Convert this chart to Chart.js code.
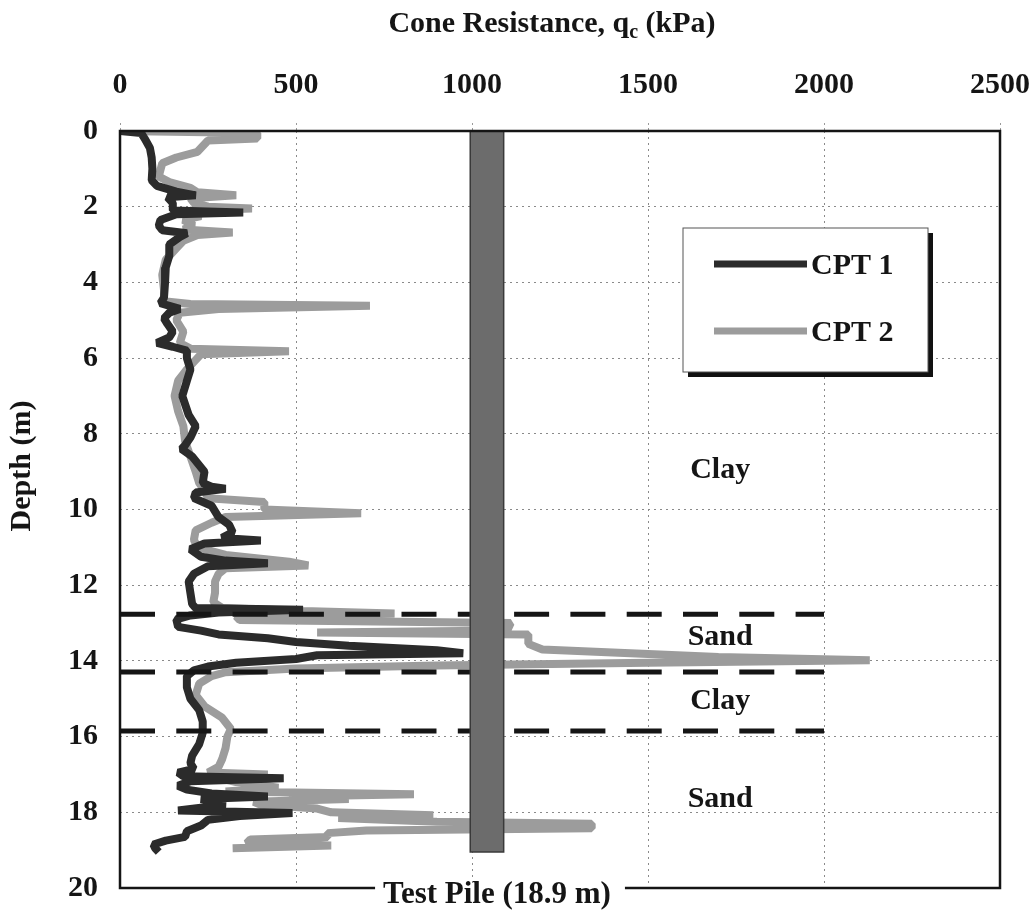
<!DOCTYPE html>
<html>
<head>
<meta charset="utf-8">
<title>CPT profiles</title>
<script src="https://cdn.jsdelivr.net/npm/chart.js@4.4.1/dist/chart.umd.min.js"></script>
<style>
  html, body { margin: 0; padding: 0; background: #fff; }
  #wrap { width: 1034px; height: 912px; }
</style>
</head>
<body>
<div id="wrap"><canvas id="canvas" width="1034" height="912"></canvas></div>
<script>
// CPT 1 : depth (m) / cone resistance (kPa)
const depth1 = [0, 0.05, 0.2, 0.45, 0.7, 1.0, 1.3, 1.45, 1.6, 1.7,
  1.75, 1.9, 2.1, 2.15, 2.2, 2.35, 2.5, 2.62, 2.7, 2.8,
  3.0, 3.3, 3.6, 4.0, 4.4, 4.55, 4.7, 4.8, 4.95, 5.1,
  5.3, 5.45, 5.6, 5.7, 5.8, 6.0, 6.3, 6.6, 7.0, 7.5,
  7.8, 8.1, 8.3, 8.4, 8.6, 9.0, 9.3, 9.4, 9.45, 9.55,
  9.7, 9.9, 10.2, 10.4, 10.6, 10.75, 10.82, 10.9, 11.05, 11.25,
  11.35, 11.42, 11.5, 11.7, 11.9, 12.2, 12.5, 12.6, 12.65, 12.72,
  12.8, 12.9, 13.1, 13.2, 13.3, 13.4, 13.5, 13.6, 13.72, 13.8,
  13.85, 13.95, 14.05, 14.15, 14.25, 14.4, 14.7, 15.0, 15.3, 15.6,
  15.9, 16.2, 16.5, 16.7, 16.85, 16.95, 17.05, 17.1, 17.18, 17.3,
  17.4, 17.5, 17.58, 17.65, 17.8, 17.95, 18.02, 18.1, 18.2, 18.35,
  18.5, 18.65, 18.75, 18.85, 18.95, 19.05];
const qc1 = [0, 60, 70, 85, 90, 92, 90, 105, 160, 215,
  135, 150, 150, 350, 160, 115, 110, 120, 190, 170,
  140, 140, 130, 128, 125, 115, 170, 140, 125, 135,
  150, 140, 105, 150, 190, 190, 200, 190, 177, 195,
  215, 200, 185, 175, 205, 240, 235, 260, 300, 215,
  210, 260, 280, 310, 320, 290, 400, 240, 200, 230,
  300, 420, 250, 210, 195, 200, 205, 215, 520, 280,
  200, 160, 165, 230, 280, 420, 500, 650, 900, 975,
  560, 500, 330, 250, 210, 190, 190, 200, 225, 235,
  235, 225, 205, 200, 210, 165, 180, 465, 200, 165,
  190, 260, 420, 230, 300, 165, 490, 340, 250, 230,
  190, 185, 130, 95, 100, 110];

// CPT 2
const depth2 = [0, 0.05, 0.2, 0.25, 0.55, 0.7, 0.85, 1.2, 1.35, 1.5,
  1.62, 1.7, 1.78, 1.9, 2.0, 2.05, 2.1, 2.25, 2.35, 2.5,
  2.6, 2.68, 2.75, 2.9, 3.1, 3.4, 3.8, 4.2, 4.5, 4.57,
  4.62, 4.7, 4.8, 5.0, 5.3, 5.6, 5.75, 5.82, 5.9, 6.1,
  6.3, 6.6, 7.0, 7.4, 7.8, 8.2, 8.6, 9.0, 9.3, 9.5,
  9.7, 9.8, 10.0, 10.1, 10.2, 10.35, 10.55, 10.8, 11.0, 11.2,
  11.38, 11.48, 11.55, 11.7, 11.9, 12.2, 12.45, 12.6, 12.68, 12.75,
  12.82, 12.92, 13.0, 13.2, 13.25, 13.3, 13.55, 13.7, 13.9, 13.98,
  14.05, 14.12, 14.2, 14.3, 14.4, 14.6, 14.9, 15.2, 15.5, 15.8,
  16.0, 16.3, 16.6, 16.8, 16.95, 17.0, 17.05, 17.2, 17.35, 17.45,
  17.52, 17.58, 17.65, 17.72, 17.8, 17.9, 18.0, 18.08, 18.15, 18.25,
  18.3, 18.42, 18.48, 18.55, 18.65, 18.72, 18.82, 18.88, 18.95];
const qc2 = [0, 390, 390, 250, 220, 160, 120, 110, 140, 200,
  220, 330, 200, 210, 250, 375, 200, 230, 180, 210,
  180, 320, 220, 180, 160, 130, 120, 125, 125, 200,
  710, 280, 170, 160, 180, 170, 200, 480, 230, 210,
  190, 165, 155, 165, 180, 185, 200, 215, 225, 240,
  250, 410, 410, 685, 300, 260, 215, 210, 220, 300,
  480, 535, 300, 280, 270, 270, 265, 290, 520, 780,
  330, 340, 1110, 1100, 560, 1160, 1160, 1200, 1700, 2130,
  1500, 900, 500, 300, 260, 225, 215, 240, 290, 315,
  305, 300, 290, 280, 250, 420, 260, 330, 450, 300,
  835, 480, 650, 380, 400, 560, 600, 890, 620, 900,
  1340, 1340, 700, 590, 590, 370, 360, 600, 320];

const xTicks = [0, 500, 1000, 1500, 2000, 2500];
const yTicks = [0, 2, 4, 6, 8, 10, 12, 14, 16, 18, 20];

// soil layer boundaries (m) and layer names
const boundaryDepths = [12.77, 14.29, 15.85];
const boundaryQc = [0, 2000];
const layerNames = ['Clay', 'Sand', 'Clay', 'Sand'];
const layerDepths = [8.95, 13.38, 15.07, 17.65];
const layerQc = 1705;

// test pile
const pileQc = [995, 1090];
const pileDepth = 19.05;
const pileLabel = 'Test Pile (18.9 m)';

const FONT = "'Liberation Serif', 'Times New Roman', serif";
const INK = '#151515';

function toPoints(depths, values) {
  return depths.map((d, i) => ({ x: values[i], y: d }));
}

const datasets = [];

datasets.push({
  label: 'pile',
  data: [
    { x: pileQc[0], y: 0 }, { x: pileQc[1], y: 0 },
    { x: pileQc[1], y: pileDepth }, { x: pileQc[0], y: pileDepth },
    { x: pileQc[0], y: 0 }
  ],
  showLine: true,
  fill: 'shape',
  backgroundColor: '#6c6c6c',
  borderColor: '#3a3a3a',
  borderWidth: 1.5,
  pointRadius: 0,
  order: 0
});

boundaryDepths.forEach((d) => {
  datasets.push({
    label: 'boundary',
    data: [{ x: boundaryQc[0], y: d }, { x: boundaryQc[1], y: d }],
    showLine: true,
    borderColor: INK,
    borderWidth: 5,
    borderDash: [35, 21.3],
    borderCapStyle: 'butt',
    pointRadius: 0,
    order: 1
  });
});

datasets.push({
  label: 'CPT 1',
  data: toPoints(depth1, qc1),
  showLine: true,
  borderColor: '#2b2b2b',
  borderWidth: 8,
  borderJoinStyle: 'bevel',
  pointRadius: 0,
  order: 2
});

datasets.push({
  label: 'CPT 2',
  data: toPoints(depth2, qc2),
  showLine: true,
  borderColor: '#9c9c9c',
  borderWidth: 8,
  borderJoinStyle: 'bevel',
  pointRadius: 0,
  order: 3
});

// frame, titles, layer names, pile label and legend
const decorations = {
  id: 'decorations',
  afterDatasetsDraw(chart) {
    const { ctx, chartArea: a } = chart;
    ctx.save();
    ctx.strokeStyle = INK;
    ctx.lineWidth = 2.5;
    ctx.strokeRect(a.left, a.top, a.right - a.left, a.bottom - a.top);
    ctx.restore();
  },
  afterDraw(chart) {
    const { ctx, chartArea: a, scales } = chart;
    const sx = scales.x, sy = scales.y;
    ctx.save();
    ctx.fillStyle = INK;

    // x title with subscript c
    const main = 'bold 30px ' + FONT, sub = 'bold 20px ' + FONT;
    const p1 = 'Cone Resistance, q', p2 = 'c', p3 = ' (kPa)';
    ctx.font = main;
    const w1 = ctx.measureText(p1).width, w3 = ctx.measureText(p3).width;
    ctx.font = sub;
    const w2 = ctx.measureText(p2).width;
    let tx = 552 - (w1 + w2 + w3) / 2;
    ctx.textBaseline = 'alphabetic';
    ctx.textAlign = 'left';
    ctx.font = main; ctx.fillText(p1, tx, 32); tx += w1;
    ctx.font = sub; ctx.fillText(p2, tx, 38); tx += w2;
    ctx.font = main; ctx.fillText(p3, tx, 32);

    // y title
    ctx.save();
    ctx.translate(22, 466);
    ctx.rotate(-Math.PI / 2);
    ctx.textAlign = 'center';
    ctx.textBaseline = 'middle';
    ctx.font = 'bold 30px ' + FONT;
    ctx.fillText('Depth (m)', 0, 0);
    ctx.restore();

    // layer names
    ctx.textAlign = 'center';
    ctx.textBaseline = 'middle';
    ctx.font = 'bold 30px ' + FONT;
    layerNames.forEach((name, i) => {
      ctx.fillText(name, sx.getPixelForValue(layerQc), sy.getPixelForValue(layerDepths[i]));
    });

    // pile label sitting on the bottom frame
    ctx.font = 'bold 31px ' + FONT;
    const pw = ctx.measureText(pileLabel).width;
    const pcx = 497;
    ctx.fillStyle = '#fff';
    ctx.fillRect(pcx - pw / 2 - 8, a.bottom - 4, pw + 22, 8);
    ctx.fillStyle = INK;
    ctx.textBaseline = 'alphabetic';
    ctx.fillText(pileLabel, pcx, 903);

    // legend box with drop shadow
    const bx = 683, by = 228, bw = 245, bh = 144;
    ctx.fillStyle = '#111';
    ctx.fillRect(bx + 5, by + 5, bw, bh);
    ctx.fillStyle = '#fff';
    ctx.fillRect(bx, by, bw, bh);
    ctx.strokeStyle = '#555';
    ctx.lineWidth = 1;
    ctx.strokeRect(bx, by, bw, bh);
    const series = chart.data.datasets.filter(ds => ds.label.startsWith('CPT'));
    series.forEach((ds, i) => {
      const ly = 264 + i * 67;
      ctx.strokeStyle = ds.borderColor;
      ctx.lineWidth = 7;
      ctx.beginPath();
      ctx.moveTo(714, ly);
      ctx.lineTo(807, ly);
      ctx.stroke();
      ctx.fillStyle = INK;
      ctx.font = 'bold 30px ' + FONT;
      ctx.textAlign = 'left';
      ctx.textBaseline = 'middle';
      ctx.fillText(ds.label, 811, ly + 2);
    });
    ctx.restore();
  }
};

const tickFont = { family: FONT, size: 30, weight: 'bold' };

new Chart(document.getElementById('canvas'), {
  type: 'scatter',
  data: { datasets: datasets },
  options: {
    responsive: false,
    animation: false,
    devicePixelRatio: 1,
    layout: { padding: { left: 0, top: 0, right: 34, bottom: 24 } },
    plugins: {
      legend: { display: false },
      tooltip: { enabled: false }
    },
    scales: {
      x: {
        type: 'linear',
        position: 'top',
        min: xTicks[0],
        max: xTicks[xTicks.length - 1],
        afterBuildTicks: (s) => { s.ticks = xTicks.map(v => ({ value: v })); },
        afterFit: (s) => { s.height = 131; s.paddingLeft = 0; s.paddingRight = 0; },
        ticks: { font: tickFont, color: INK, padding: 20, maxRotation: 0, callback: (v) => String(v) },
        grid: {
          color: '#8a8a8a', lineWidth: 1, drawTicks: true, tickLength: 8,
          tickColor: '#9a9a9a', tickBorderDash: [2, 3]
        },
        border: { display: false, dash: [2, 4] },
        title: { display: false }
      },
      y: {
        type: 'linear',
        reverse: true,
        min: yTicks[0],
        max: yTicks[yTicks.length - 1],
        afterBuildTicks: (s) => { s.ticks = yTicks.map(v => ({ value: v })); },
        afterFit: (s) => { s.width = 120; s.paddingTop = 0; s.paddingBottom = 0; },
        ticks: { font: tickFont, color: INK, padding: 22, callback: (v) => String(v) },
        grid: { color: '#8a8a8a', lineWidth: 1, drawTicks: false },
        border: { display: false, dash: [2, 4] },
        title: { display: false }
      }
    }
  },
  plugins: [decorations]
});
</script>
</body>
</html>
